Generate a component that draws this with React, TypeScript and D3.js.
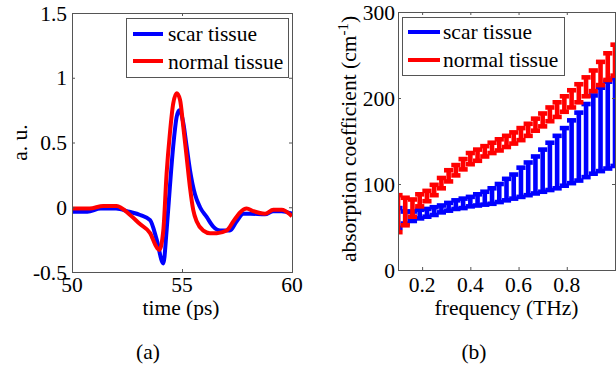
import React from 'react';
import * as d3 from 'd3';

// ---------- Panel (a): time-domain pulses ----------
const timeScar = [50, 50.7, 51.3, 52.0, 52.6, 53.1, 53.55, 53.85, 54.15, 54.3, 54.45, 54.6, 54.76, 54.88, 55.06, 55.21, 55.36, 55.59, 55.82, 56.12, 56.42, 56.73, 57.18, 57.48, 57.79, 58.1, 58.77, 59.15, 59.53, 60];
const scarSignal = [-0.035, -0.035, -0.01, -0.01, -0.035, -0.06, -0.1, -0.25, -0.435, -0.18, 0.16, 0.47, 0.7, 0.75, 0.65, 0.47, 0.29, 0.1, 0.0, -0.075, -0.15, -0.18, -0.18, -0.11, -0.05, -0.05, -0.055, -0.03, -0.03, -0.05];
const timeNormal = [50, 50.8, 51.42, 52.03, 52.64, 53.09, 53.55, 53.85, 53.97, 54.15, 54.3, 54.45, 54.6, 54.76, 54.91, 55.06, 55.21, 55.36, 55.51, 55.67, 55.97, 56.27, 56.58, 57.03, 57.33, 57.64, 57.94, 58.24, 58.77, 59.15, 59.53, 60];
const normalSignal = [-0.01, -0.01, 0.01, 0.01, -0.06, -0.13, -0.2, -0.31, -0.33, -0.18, 0.26, 0.57, 0.8, 0.88, 0.83, 0.62, 0.39, 0.157, -0.02, -0.11, -0.18, -0.2, -0.2, -0.18, -0.11, -0.04, -0.01, -0.03, -0.05, -0.02, -0.02, -0.07];
const leftXTicks = [50, 55, 60];
const leftYTicks = [-0.5, 0, 0.5, 1, 1.5];

// ---------- Panel (b): absorption coefficient with error bars ----------
const freq = [0.10, 0.13, 0.16, 0.19, 0.22, 0.25, 0.28, 0.31, 0.34, 0.37, 0.40, 0.43, 0.46, 0.49, 0.52, 0.55, 0.58, 0.61, 0.64, 0.67, 0.70, 0.73, 0.76, 0.79, 0.82, 0.85, 0.88, 0.91, 0.94, 0.97, 1.00];
const scarLow = [49, 54, 57, 60, 62, 64, 67, 69, 71, 72, 74, 75, 76, 77, 79, 81, 83, 85, 87, 89, 91, 93, 95, 98, 101, 104, 108, 112, 115, 118, 121];
const scarHigh = [72, 68, 68, 70, 71, 73, 75, 78, 81, 83, 85, 88, 91, 95, 100, 106, 111, 119, 125, 132, 140, 148, 156, 165, 174, 183, 193, 203, 212, 219, 223];
const normalLow = [44, 52, 62, 74, 80, 87, 95, 103, 110, 117, 123, 127, 132, 136, 139, 143, 147, 151, 156, 162, 167, 173, 178, 184, 189, 195, 202, 208, 215, 221, 226];
const normalHigh = [87, 84, 82, 88, 92, 99, 107, 116, 122, 129, 136, 140, 144, 148, 152, 156, 160, 165, 170, 176, 182, 189, 195, 202, 209, 216, 224, 232, 242, 252, 262];
const rightXTicks = [0.2, 0.4, 0.6, 0.8];
const rightYTicks = [0, 100, 200, 300];

const seriesNames = ['scar tissue', 'normal tissue'];
const seriesColors = ['#0000ff', '#ff0000'];

const FONT = 'Liberation Serif';
const FS = 21.5;
const AXIS = '#555';

export default function App() {
  // Panel (a) geometry
  const a = { left: 72, right: 292, top: 13, bottom: 272 };
  const xa = d3.scaleLinear().domain([50, 60]).range([a.left, a.right]);
  const ya = d3.scaleLinear().domain([-0.5, 1.5]).range([a.bottom, a.top]);
  const lineA = d3.line<[number, number]>()
    .x(d => xa(d[0]))
    .y(d => ya(d[1]))
    .curve(d3.curveMonotoneX);
  const scarPath = lineA(timeScar.map((t, i) => [t, scarSignal[i]] as [number, number])) || '';
  const normalPath = lineA(timeNormal.map((t, i) => [t, normalSignal[i]] as [number, number])) || '';

  // Panel (b) geometry
  const b = { left: 398, right: 615, top: 12, bottom: 270 };
  const xb = d3.scaleLinear().domain([0.1, 1.0]).range([b.left, b.right]);
  const yb = d3.scaleLinear().domain([0, 300]).range([b.bottom, b.top]);
  const cap = 4.6;
  const bw = 4.6;

  const tick = 3;

  const errorBars = (lows: number[], highs: number[], color: string, key: string) => (
    <g key={key} stroke={color} strokeWidth={bw} fill="none">
      {freq.map((f, i) => {
        const x = xb(f);
        const y1 = yb(lows[i]);
        const y2 = yb(highs[i]);
        return (
          <g key={i}>
            <line x1={x} x2={x} y1={y1} y2={y2} />
            <line x1={x - cap} x2={x + cap} y1={y1} y2={y1} />
            <line x1={x - cap} x2={x + cap} y1={y2} y2={y2} />
          </g>
        );
      })}
    </g>
  );

  const fmtA = (v: number) => (v === 0 ? '0' : String(v));

  return (
    <svg width={616} height={370} style={{ position: 'absolute', left: 0, top: 0, background: '#fff' }}
      fontFamily={FONT} fontSize={FS}>
      <defs>
        <clipPath id="clipA"><rect x={a.left} y={a.top} width={a.right - a.left} height={a.bottom - a.top} /></clipPath>
        <clipPath id="clipB"><rect x={b.left} y={b.top} width={b.right - b.left + 1} height={b.bottom - b.top} /></clipPath>
      </defs>
      <rect x={0} y={0} width={616} height={370} fill="#fff" />

      {/* ---------- Panel (a) ---------- */}
      <g clipPath="url(#clipA)">
        <path d={scarPath} fill="none" stroke={seriesColors[0]} strokeWidth={4} strokeLinejoin="round" />
        <path d={normalPath} fill="none" stroke={seriesColors[1]} strokeWidth={4} strokeLinejoin="round" />
      </g>
      <rect x={a.left + 0.5} y={a.top + 0.5} width={a.right - a.left} height={a.bottom - a.top} fill="none" stroke={AXIS} strokeWidth={1} />
      {leftXTicks.map(t => (
        <g key={'ax' + t}>
          <line x1={xa(t) + 0.5} x2={xa(t) + 0.5} y1={a.bottom} y2={a.bottom - tick} stroke={AXIS} />
          <line x1={xa(t) + 0.5} x2={xa(t) + 0.5} y1={a.top} y2={a.top + tick} stroke={AXIS} />
          <text x={xa(t)} y={292} textAnchor="middle" fill="#000">{t}</text>
        </g>
      ))}
      {leftYTicks.map(t => (
        <g key={'ay' + t}>
          <line x1={a.left} x2={a.left + tick} y1={ya(t) + 0.5} y2={ya(t) + 0.5} stroke={AXIS} />
          <line x1={a.right} x2={a.right - tick} y1={ya(t) + 0.5} y2={ya(t) + 0.5} stroke={AXIS} />
          <text x={67} y={ya(t)} dy="0.35em" textAnchor="end" fill="#000">{fmtA(t)}</text>
        </g>
      ))}
      <text x={181} y={315} textAnchor="middle" fill="#000">time (ps)</text>
      <text transform={`translate(27,${(a.top + a.bottom) / 2}) rotate(-90)`} textAnchor="middle" fill="#000">a. u.</text>
      <text x={148} y={359} textAnchor="middle" fill="#000">(a)</text>

      {/* legend (a) */}
      <rect x={126.5} y={18.5} width={162} height={59} fill="#fff" stroke={AXIS} />
      {seriesNames.map((n, i) => (
        <g key={'la' + i}>
          <line x1={133} x2={163} y1={34 + i * 27} y2={34 + i * 27} stroke={seriesColors[i]} strokeWidth={4} />
          <text x={168} y={41 + i * 28} fill="#000">{n}</text>
        </g>
      ))}

      {/* ---------- Panel (b) ---------- */}
      <g clipPath="url(#clipB)">
        {errorBars(scarLow, scarHigh, seriesColors[0], 'eb0')}
        {errorBars(normalLow, normalHigh, seriesColors[1], 'eb1')}
      </g>
      <rect x={b.left + 0.5} y={b.top + 0.5} width={b.right - b.left} height={b.bottom - b.top} fill="none" stroke={AXIS} strokeWidth={1} />
      {rightXTicks.map(t => (
        <g key={'bx' + t}>
          <line x1={xb(t) + 0.5} x2={xb(t) + 0.5} y1={b.bottom} y2={b.bottom - tick} stroke={AXIS} />
          <line x1={xb(t) + 0.5} x2={xb(t) + 0.5} y1={b.top} y2={b.top + tick} stroke={AXIS} />
          <text x={xb(t)} y={292} textAnchor="middle" fill="#000">{t.toFixed(1)}</text>
        </g>
      ))}
      {rightYTicks.map(t => (
        <g key={'by' + t}>
          <line x1={b.left} x2={b.left + tick} y1={yb(t) + 0.5} y2={yb(t) + 0.5} stroke={AXIS} />
          <line x1={b.right} x2={b.right - tick} y1={yb(t) + 0.5} y2={yb(t) + 0.5} stroke={AXIS} />
          <text x={395} y={yb(t)} dy="0.35em" textAnchor="end" fill="#000">{t}</text>
        </g>
      ))}
      <text x={(b.left + b.right) / 2} y={315} textAnchor="middle" fill="#000">frequency (THz)</text>
      <text transform={`translate(356,${(b.top + b.bottom) / 2 - 2}) rotate(-90)`} textAnchor="middle" fill="#000">
        absorption coefficient (cm<tspan dy="-8" fontSize={15}>-1</tspan><tspan dy="8">)</tspan>
      </text>
      <text x={474} y={359} textAnchor="middle" fill="#000">(b)</text>

      {/* legend (b) */}
      <rect x={402.5} y={17.5} width={162} height={58} fill="#fff" stroke={AXIS} />
      {seriesNames.map((n, i) => (
        <g key={'lb' + i}>
          <line x1={408} x2={440} y1={32 + i * 28} y2={32 + i * 28} stroke={seriesColors[i]} strokeWidth={4} />
          <text x={443} y={39 + i * 28} fill="#000">{n}</text>
        </g>
      ))}
    </svg>
  );
}
